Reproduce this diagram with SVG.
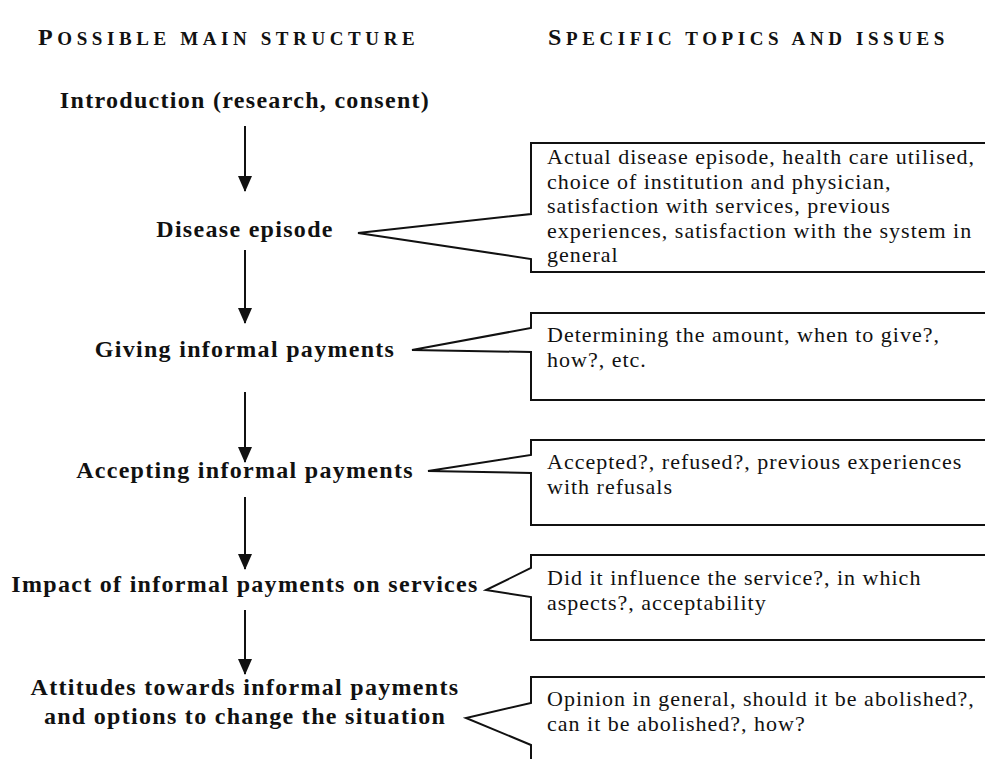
<svg xmlns="http://www.w3.org/2000/svg" width="985" height="759" viewBox="0 0 985 759">
  <style>
    .head { font-family: "Liberation Serif", "Times New Roman", serif; font-weight: bold; fill: #111; letter-spacing: 4.6px; }
    .big { font-size: 24px; }
    .small { font-size: 19px; }
    .step { font-family: "Liberation Serif", "Times New Roman", serif; font-weight: bold; font-size: 24px; fill: #111; text-anchor: middle; letter-spacing: 1.3px; }
    .note { font-family: "Liberation Serif", "Times New Roman", serif; font-size: 22px; fill: #111; letter-spacing: 1px; }
    .callout { fill: none; stroke: #111; stroke-width: 2; stroke-linejoin: miter; }
    .flow { stroke: #111; stroke-width: 2; fill: none; }
  </style>
  <defs>
    <!-- solid triangular head, drawn pointing along +x so orient="auto" turns it down the line -->
    <marker id="arrowhead" markerWidth="16" markerHeight="14" refX="15" refY="7" orient="auto" markerUnits="userSpaceOnUse" viewBox="0 0 16 14">
      <path d="M0 0 L16 7 L0 14 Z" fill="#111"/>
    </marker>
  </defs>

  <!-- column headings -->
  <g id="heading-structure">
    <text class="head" x="38" y="45"><tspan class="big">P</tspan><tspan class="small">OSSIBLE MAIN STRUCTURE</tspan></text>
  </g>
  <g id="heading-topics">
    <text class="head" x="548" y="45"><tspan class="big">S</tspan><tspan class="small">PECIFIC TOPICS AND ISSUES</tspan></text>
  </g>

  <!-- main structure steps -->
  <g id="step-introduction">
    <text class="step" x="245" y="108">Introduction (research, consent)</text>
  </g>
  <g id="step-disease">
    <text class="step" x="245" y="237">Disease episode</text>
  </g>
  <g id="step-giving">
    <text class="step" x="245" y="357">Giving informal payments</text>
  </g>
  <g id="step-accepting">
    <text class="step" x="245" y="478">Accepting informal payments</text>
  </g>
  <g id="step-impact">
    <text class="step" x="245" y="592">Impact of informal payments on services</text>
  </g>
  <g id="step-attitudes">
    <text class="step" x="245" y="695">Attitudes towards informal payments</text>
    <text class="step" x="245" y="724">and options to change the situation</text>
  </g>

  <!-- topic callouts -->
  <g id="topic-disease">
    <path class="callout" d="M985 143 H531 V214 L358 233 L531 259 V272 H985"/>
    <text class="note" x="547" y="164">Actual disease episode, health care utilised,</text>
    <text class="note" x="547" y="189">choice of institution and physician,</text>
    <text class="note" x="547" y="213">satisfaction with services, previous</text>
    <text class="note" x="547" y="238">experiences, satisfaction with the system in</text>
    <text class="note" x="547" y="262">general</text>
  </g>
  <g id="topic-giving">
    <path class="callout" d="M985 313 H531 V328 L412 350 L531 352 V400 H985"/>
    <text class="note" x="547" y="342">Determining the amount, when to give?,</text>
    <text class="note" x="547" y="367">how?, etc.</text>
  </g>
  <g id="topic-accepting">
    <path class="callout" d="M985 440 H531 V455 L428 471 L531 473 V525 H985"/>
    <text class="note" x="547" y="469">Accepted?, refused?, previous experiences</text>
    <text class="note" x="547" y="494">with refusals</text>
  </g>
  <g id="topic-impact">
    <path class="callout" d="M985 555 H531 V568 L486 590 L531 597 V640 H985"/>
    <text class="note" x="547" y="585">Did it influence the service?, in which</text>
    <text class="note" x="547" y="610">aspects?, acceptability</text>
  </g>
  <g id="topic-attitudes">
    <path class="callout" d="M985 677 H531 V703 L466 718 L531 745 V759"/>
    <text class="note" x="547" y="706">Opinion in general, should it be abolished?,</text>
    <text class="note" x="547" y="731">can it be abolished?, how?</text>
  </g>

  <!-- flow arrows between steps -->
  <g id="connectors">
    <line class="flow" x1="245" y1="126" x2="245" y2="191" marker-end="url(#arrowhead)"/>
    <line class="flow" x1="245" y1="250" x2="245" y2="323" marker-end="url(#arrowhead)"/>
    <line class="flow" x1="245" y1="392" x2="245" y2="462" marker-end="url(#arrowhead)"/>
    <line class="flow" x1="245" y1="497" x2="245" y2="569" marker-end="url(#arrowhead)"/>
    <line class="flow" x1="245" y1="610" x2="245" y2="674" marker-end="url(#arrowhead)"/>
  </g>
</svg>
